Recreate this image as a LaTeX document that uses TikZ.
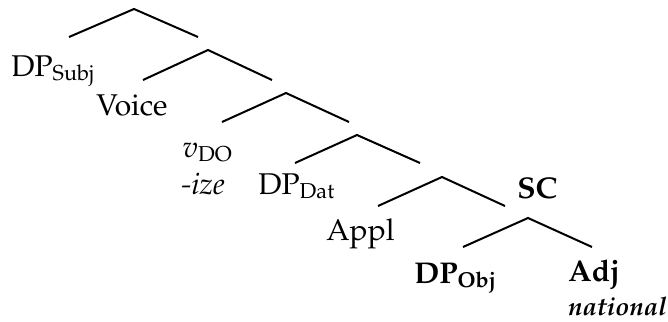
\documentclass[tikz,border=0pt]{standalone}
\usepackage[T1]{fontenc}
\usepackage{mathpazo}
\usepackage{tikz}
\newcommand{\lowsub}[1]{\raisebox{-2.4pt}{\fontsize{10.8}{12}\selectfont #1}}

\begin{document}
\begin{tikzpicture}[
  x=0.5pt, y=-0.5pt,
  lbl/.style={anchor=base west,inner sep=0pt,font=\fontsize{15}{18}\selectfont},
  branch/.style={line width=1pt}
]
  \useasboundingbox (0,0) rectangle (668,321);

  % branching points of the spine
  \coordinate (voicep) at (134,9);
  \coordinate (voicebar) at (208,50);
  \coordinate (vp) at (286,93);
  \coordinate (applp) at (357,135);
  \coordinate (applbar) at (442,177);
  \coordinate (scp) at (528,218);

  % where the branches stop
  \coordinate (voicep-l) at (69,37);    \coordinate (voicep-r) at (198,37);
  \coordinate (voicebar-l) at (143,80); \coordinate (voicebar-r) at (272,80);
  \coordinate (vp-l) at (222,122);      \coordinate (vp-r) at (349,122);
  \coordinate (applp-l) at (295,163);   \coordinate (applp-r) at (420,163);
  \coordinate (applbar-l) at (378,206); \coordinate (applbar-r) at (505,206);
  \coordinate (scp-l) at (463,247);     \coordinate (scp-r) at (592,247);

  % terminals
  \node[lbl] (subj) at (11,76) {DP\lowsub{Subj}};
  \node[lbl] (voice) at (96,115) {Voice};
  \node[lbl] (vdo) at (182,157) {$v$\lowsub{DO}};
  \node[lbl] (ize) at (181,194) {\textit{-ize}};
  \node[lbl] (dat) at (258,194) {DP\lowsub{Dat}};
  \node[lbl] (appl) at (326,240) {Appl};
  \node[lbl] (sc) at (517,198) {\textbf{SC}};
  \node[lbl] (obj) at (414,283) {\textbf{DP\lowsub{Obj}}};
  \node[lbl] (adj) at (568,281) {\textbf{Adj}};
  \node[lbl,font=\fontsize{12.8}{15}\selectfont] (nat) at (568,315) {\textbf{\textit{national}}};

  \draw[branch] (voicep-l) -- (voicep) -- (voicep-r);
  \draw[branch] (voicebar-l) -- (voicebar) -- (voicebar-r);
  \draw[branch] (vp-l) -- (vp) -- (vp-r);
  \draw[branch] (applp-l) -- (applp) -- (applp-r);
  \draw[branch] (applbar-l) -- (applbar) -- (applbar-r);
  \draw[branch] (scp-l) -- (scp) -- (scp-r);
\end{tikzpicture}
\end{document}
